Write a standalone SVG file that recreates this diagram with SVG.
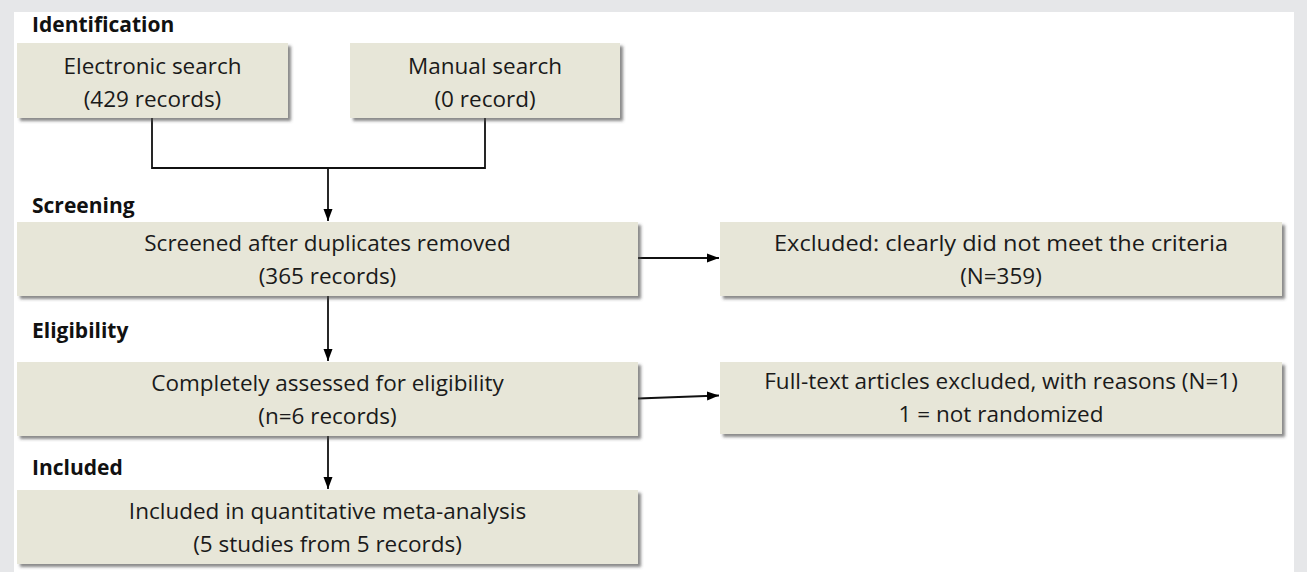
<svg xmlns="http://www.w3.org/2000/svg" width="1307" height="572" viewBox="0 0 1307 572">
  <defs>
    <filter id="sh" x="-5%" y="-10%" width="112%" height="130%">
      <feDropShadow dx="3" dy="3" stdDeviation="1.8" flood-color="#4a4a4a" flood-opacity="0.65"/>
    </filter>
    <marker id="ah" viewBox="0 0 12 10" refX="12" refY="5" markerWidth="12" markerHeight="10" markerUnits="userSpaceOnUse" orient="auto">
      <path d="M0,0.5 L12,5 L0,9.5 Z" fill="#000"/>
    </marker>
  </defs>
  <style>
    .box { fill: #e7e6d8; filter: url(#sh); }
    .t { font-family: "Open Sans", "Liberation Sans", sans-serif; font-size: 22.5px; fill: #1a1a1a; text-anchor: middle; }
    .lab { font-family: "Open Sans", "Liberation Sans", sans-serif; font-size: 21px; font-weight: bold; fill: #111; }
    .c { fill: none; stroke: #111; stroke-width: 1.8; }
  </style>
  <rect x="0" y="0" width="1307" height="572" fill="#e6e7e9"/>
  <rect x="14" y="12" width="1280" height="560" fill="#ffffff"/>

  <g id="labels">
    <text class="lab" x="32" y="32">Identification</text>
    <text class="lab" x="32" y="213">Screening</text>
    <text class="lab" x="32" y="338">Eligibility</text>
    <text class="lab" x="32" y="475">Included</text>
  </g>

  <g id="connectors">
    <polyline class="c" points="152,118 152,168 485,168 485,118"/>
    <line class="c" x1="328" y1="168" x2="328" y2="221" marker-end="url(#ah)"/>
    <line class="c" x1="328" y1="296" x2="328" y2="361" marker-end="url(#ah)"/>
    <line class="c" x1="328" y1="436" x2="328" y2="489" marker-end="url(#ah)"/>
    <line class="c" x1="638" y1="258" x2="719" y2="258" marker-end="url(#ah)"/>
    <line class="c" x1="638" y1="398.5" x2="719" y2="395.5" marker-end="url(#ah)"/>
  </g>

  <g id="electronic">
    <rect class="box" x="17" y="43" width="271" height="75"/>
    <text class="t" x="152.5" y="74">Electronic search</text>
    <text class="t" x="152.5" y="107">(429 records)</text>
  </g>
  <g id="manual">
    <rect class="box" x="350" y="43" width="270" height="75"/>
    <text class="t" x="485" y="74">Manual search</text>
    <text class="t" x="485" y="107">(0 record)</text>
  </g>
  <g id="screened">
    <rect class="box" x="17" y="222" width="621" height="74"/>
    <text class="t" x="327.5" y="251">Screened after duplicates removed</text>
    <text class="t" x="327.5" y="284">(365 records)</text>
  </g>
  <g id="excluded">
    <rect class="box" x="720" y="222" width="562" height="74"/>
    <text class="t" x="1001" y="251" textLength="454" lengthAdjust="spacingAndGlyphs">Excluded: clearly did not meet the criteria</text>
    <text class="t" x="1001" y="284">(N=359)</text>
  </g>
  <g id="assessed">
    <rect class="box" x="17" y="362" width="621" height="74"/>
    <text class="t" x="327.5" y="391">Completely assessed for eligibility</text>
    <text class="t" x="327.5" y="424">(n=6 records)</text>
  </g>
  <g id="fulltext">
    <rect class="box" x="720" y="362" width="562" height="72"/>
    <text class="t" x="1001" y="389">Full-text articles excluded, with reasons (N=1)</text>
    <text class="t" x="1001" y="422">1 = not randomized</text>
  </g>
  <g id="included">
    <rect class="box" x="17" y="490" width="621" height="74"/>
    <text class="t" x="327.5" y="519">Included in quantitative meta-analysis</text>
    <text class="t" x="327.5" y="552">(5 studies from 5 records)</text>
  </g>
</svg>
